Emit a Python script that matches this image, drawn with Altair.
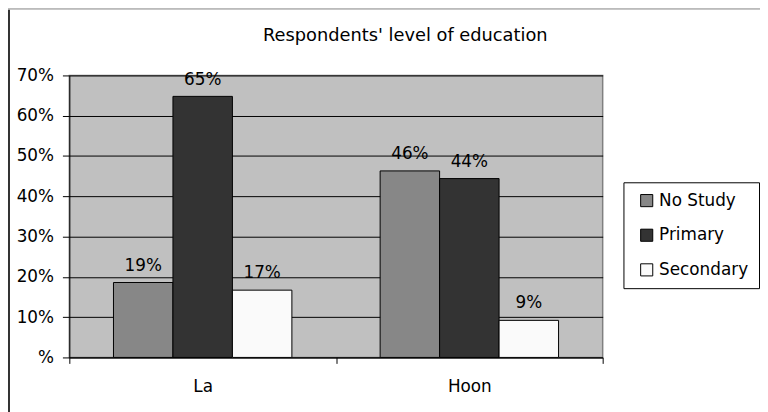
import altair as alt
import pandas as pd

categories = ["La", "Hoon"]
levels = ["No Study", "Primary", "Secondary"]
la_values = [0.186, 0.648, 0.167]
hoon_values = [0.463, 0.444, 0.092]
level_colors = ["#878787", "#333333", "#FAFAFA"]
y_ticks = [0, 0.1, 0.2, 0.3, 0.4, 0.5, 0.6, 0.7]
chart_title = ["Respondents' level of education"]

rows = []
for cat, vals in zip(categories, [la_values, hoon_values]):
    for lev, v in zip(levels, vals):
        rows.append({"place": cat, "level": lev, "share": v})
df = pd.DataFrame(rows)
title_df = pd.DataFrame({"t": chart_title})

W, H = 539, 285
FONT = "DejaVu Sans"
FS = 17

x_enc = alt.X("place:N", sort=categories, title=None,
              scale=alt.Scale(paddingInner=0, paddingOuter=0),
              axis=alt.Axis(labelAngle=0, tickBand="extent", tickSize=6,
                            labelPadding=15, domainColor="black", tickColor="black",
                            labelFontSize=FS, labelColor="black", labelFont=FONT, grid=False))
xoff = alt.XOffset("level:N", sort=levels, scale=alt.Scale(paddingInner=0, paddingOuter=0.742))
y_enc = alt.Y("share:Q", title=None,
              scale=alt.Scale(domain=[0, 0.7], nice=False),
              axis=alt.Axis(values=y_ticks, labelExpr="datum.value == 0 ? '%' : format(datum.value, '.0%')",
                            grid=True, gridColor="black", gridOpacity=1, gridWidth=1,
                            domainColor="black", tickColor="black", tickSize=7, labelPadding=9,
                            labelFontSize=FS, labelColor="black", labelFont=FONT))

bars = alt.Chart(df).mark_bar(stroke="black", strokeWidth=1).encode(
    x=x_enc, xOffset=xoff, y=y_enc,
    color=alt.Color("level:N", sort=levels,
                    scale=alt.Scale(domain=levels, range=level_colors),
                    legend=alt.Legend(title=None, orient="none", legendX=560, legendY=108,
                                      symbolType="square", symbolSize=150,
                                      symbolStrokeColor="black", symbolStrokeWidth=1,
                                      labelFontSize=FS, labelFont=FONT, labelColor="black",
                                      rowPadding=17, padding=10, symbolOffset=5, labelOffset=4,
                                      strokeColor="black", fillColor="white")),
)

labels = alt.Chart(df).mark_text(baseline="bottom", dy=-8, fontSize=FS, font=FONT, color="black").encode(
    x=alt.X("place:N", sort=categories), xOffset=xoff,
    y=alt.Y("share:Q"),
    text=alt.Text("share:Q", format=".0%"),
)

title_mark = alt.Chart(title_df).mark_text(baseline="alphabetic", align="center", fontSize=18,
                                           font=FONT, color="black").encode(
    x=alt.value(W / 2 + 70), y=alt.value(-35), text="t:N")

frame_left = alt.Chart(df).mark_rule(color="#333333", strokeWidth=3).encode(
    x=alt.value(-62), y=alt.value(-68), y2=alt.value(H + 200))
frame_top = alt.Chart(df).mark_rule(color="#BBBBBB", strokeWidth=2).encode(
    x=alt.value(-63), x2=alt.value(W + 300), y=alt.value(-68))

chart = alt.layer(frame_left, frame_top, bars, labels, title_mark).properties(
    width=W, height=H,
    autosize=alt.AutoSizeParams(type="none"),
    padding={"left": 62, "top": 66, "right": 159, "bottom": 53},
    background="white",
).configure_view(fill="#C0C0C0", stroke="#808080", strokeWidth=1.5)

chart.save("out.html", embed_options={"renderer": "svg", "actions": False})
